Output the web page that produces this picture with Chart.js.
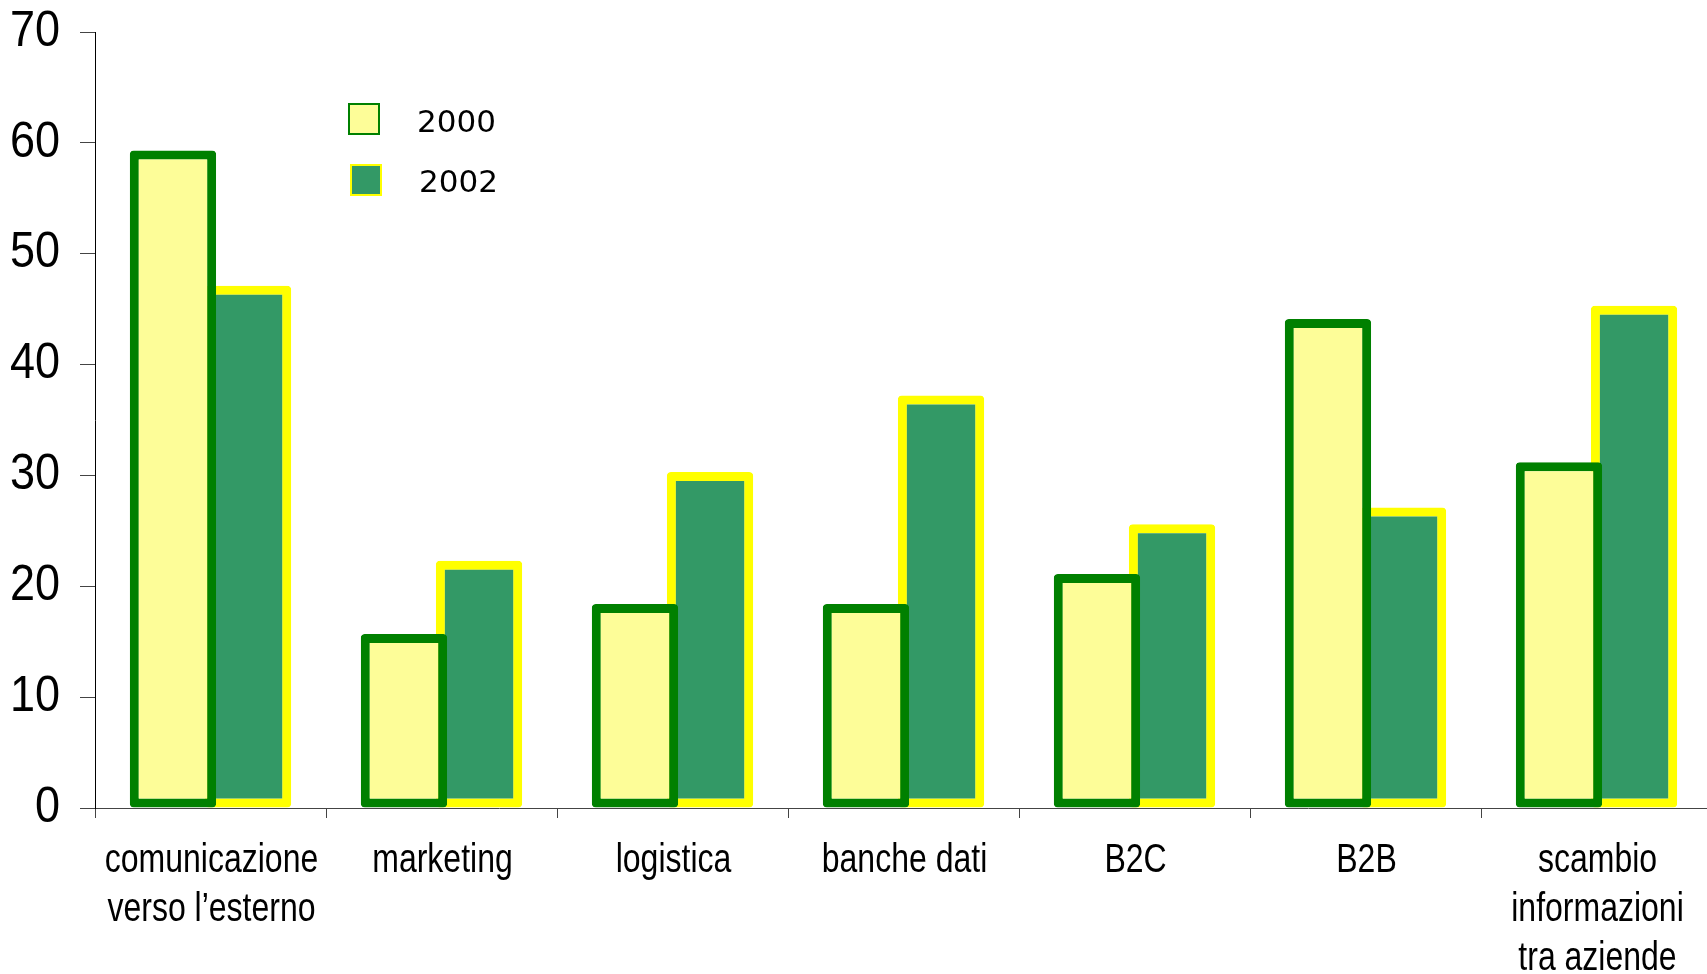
<!DOCTYPE html>
<html>
<head>
<meta charset="utf-8">
<title>2000 vs 2002</title>
<script src="https://cdn.jsdelivr.net/npm/chart.js@4.4.1/dist/chart.umd.min.js"></script>
<style>
  html, body { margin: 0; padding: 0; background: #fff; overflow: hidden; }
  #wrap { width: 1712px; height: 974px; }
</style>
</head>
<body>
<div id="wrap"><canvas id="chart"></canvas></div>
<script>
var categories = [
    ['comunicazione', 'verso l\u2019esterno'],
    'marketing',
    'logistica',
    'banche dati',
    'B2C',
    'B2B',
    ['scambio', 'informazioni', 'tra aziende']
];
var values2000 = [59.3, 15.7, 18.4, 18.4, 21.1, 44.1, 31.2];
var values2002 = [47.1, 22.3, 30.3, 37.2, 25.6, 27.1, 45.3];
var yTicks = [0, 10, 20, 30, 40, 50, 60, 70];

var sans = '"Liberation Sans", Arial, sans-serif';

// legend drawn inside the plot, top left
var insideLegend = {
    id: 'insideLegend',
    afterDraw: function (chart) {
        var ctx = chart.ctx;
        var rows = [
            { box: [348, 103], text: [417, 124] },
            { box: [350, 164], text: [419, 184] }
        ];
        ctx.save();
        chart.data.datasets.forEach(function (ds, i) {
            var r = rows[i];
            ctx.fillStyle = ds.backgroundColor;
            ctx.fillRect(r.box[0], r.box[1], 32, 32);
            ctx.lineWidth = 2;
            ctx.strokeStyle = ds.borderColor;
            ctx.strokeRect(r.box[0] + 1, r.box[1] + 1, 30, 30);
            ctx.fillStyle = '#000';
            ctx.font = '31px "DejaVu Sans", sans-serif';
            ctx.textBaseline = 'middle';
            ctx.textAlign = 'left';
            ctx.fillText(ds.label, r.text[0], r.text[1]);
        });
        ctx.restore();
    }
};

// tick labels in a condensed look (no narrow font installed)
var narrowLabels = {
    id: 'narrowLabels',
    afterDraw: function (chart) {
        var ctx = chart.ctx;
        var ys = chart.scales.y;
        var xs = chart.scales.x;
        ctx.save();
        ctx.fillStyle = '#000';

        ctx.font = '50px ' + sans;
        ctx.textAlign = 'right';
        ctx.textBaseline = 'middle';
        ys.ticks.forEach(function (t) {
            var y = ys.getPixelForValue(t.value);
            ctx.save();
            ctx.translate(ys.right - 35, y);
            ctx.scale(0.9, 1);
            ctx.fillText(String(t.value), 0, 0);
            ctx.restore();
        });

        ctx.font = '40px ' + sans;
        ctx.textAlign = 'center';
        ctx.textBaseline = 'alphabetic';
        chart.data.labels.forEach(function (lab, i) {
            var lines = Array.isArray(lab) ? lab : [lab];
            var x = xs.getPixelForValue(i);
            lines.forEach(function (line, j) {
                ctx.save();
                ctx.translate(x + 1, xs.top + 64 + j * 49);
                ctx.scale(0.8, 1);
                ctx.fillText(line, 0, 0);
                ctx.restore();
            });
        });
        ctx.restore();
    }
};

var ctx = document.getElementById('chart').getContext('2d');
new Chart(ctx, {
    type: 'bar',
    data: {
        labels: categories,
        datasets: [{
            label: '2000',
            data: values2000,
            backgroundColor: '#FDFD98',
            borderColor: '#008000',
            borderWidth: 9,
            borderSkipped: false,
            borderRadius: 4,
            categoryPercentage: 0.65,
            barPercentage: 1.15
        }, {
            label: '2002',
            data: values2002,
            backgroundColor: '#339966',
            borderColor: '#FFFF00',
            borderWidth: 9,
            borderSkipped: false,
            borderRadius: 4,
            categoryPercentage: 0.65,
            barPercentage: 1.15
        }]
    },
    options: {
        responsive: true,
        maintainAspectRatio: false,
        animation: false,
        layout: { padding: { top: 32, right: 0, left: 0, bottom: 0 } },
        plugins: {
            legend: { display: false },
            tooltip: { enabled: false }
        },
        scales: {
            x: {
                grid: {
                    offset: true,
                    drawOnChartArea: false,
                    color: '#444',
                    tickLength: 10,
                    lineWidth: 1
                },
                border: { color: '#444', width: 1 },
                ticks: { display: false, autoSkip: false },
                afterFit: function (s) { s.height = 166; }
            },
            y: {
                min: 0,
                max: 70,
                afterBuildTicks: function (s) {
                    s.ticks = yTicks.map(function (v) { return { value: v }; });
                },
                grid: {
                    drawOnChartArea: false,
                    color: '#444',
                    tickLength: 15,
                    lineWidth: 1
                },
                border: { color: '#000', width: 1 },
                ticks: { display: false },
                afterFit: function (s) { s.width = 95; }
            }
        }
    },
    plugins: [insideLegend, narrowLabels]
});
</script>
</body>
</html>
